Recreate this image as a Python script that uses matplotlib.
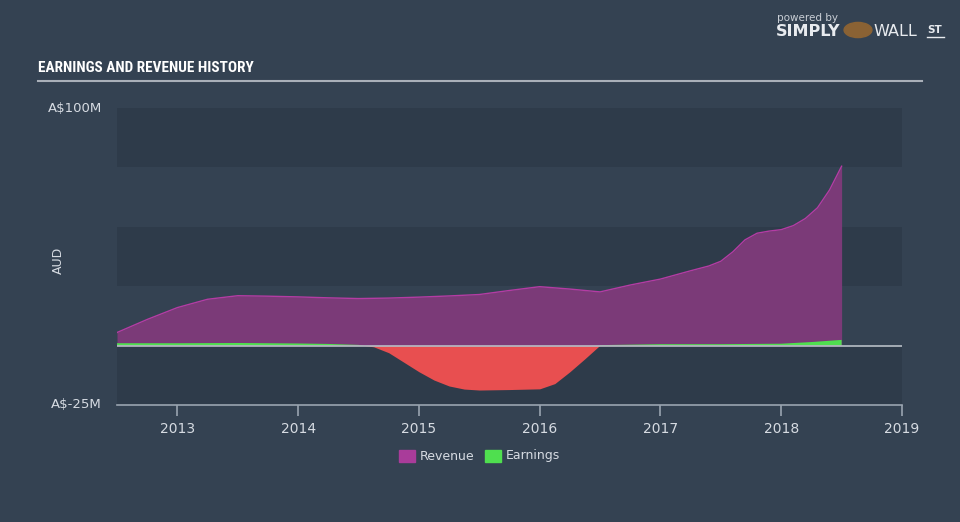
import matplotlib.pyplot as plt
import numpy as np
from matplotlib import font_manager

# revenue and earnings, A$ millions
rev_years = [2012.5, 2012.75, 2013.0, 2013.25, 2013.5, 2013.75, 2014.0, 2014.25, 2014.5, 2014.75,
             2015.0, 2015.25, 2015.5, 2015.75, 2016.0, 2016.25, 2016.5, 2016.75, 2017.0, 2017.25,
             2017.4, 2017.5, 2017.6, 2017.7, 2017.8, 2017.9, 2018.0, 2018.1, 2018.2, 2018.3,
             2018.4, 2018.5]
revenue = [5.5, 11.0, 16.0, 19.5, 21.0, 20.8, 20.5, 20.1, 19.8, 20.0,
           20.4, 20.9, 21.5, 23.2, 24.8, 23.8, 22.6, 25.5, 28.0, 31.5,
           33.5, 35.5, 39.5, 44.5, 47.3, 48.2, 48.8, 50.5, 53.5, 58.0,
           65.5, 75.5]

earn_years = [2012.5, 2013.0, 2013.5, 2014.0, 2014.25, 2014.5, 2014.625, 2014.75, 2014.875, 2015.0,
              2015.125, 2015.25, 2015.375, 2015.5, 2015.75, 2016.0, 2016.125, 2016.25, 2016.375, 2016.5,
              2016.75, 2017.0, 2017.5, 2018.0, 2018.25, 2018.5]
earnings = [1.0, 1.0, 1.1, 0.9, 0.7, 0.3, -0.5, -3.0, -7.0, -11.0,
            -14.5, -17.0, -18.3, -18.7, -18.5, -18.2, -16.0, -11.0, -5.5, 0.2,
            0.4, 0.6, 0.6, 0.8, 1.5, 2.4]

year_ticks = [2013, 2014, 2015, 2016, 2017, 2018, 2019]

bg = '#344252'
band = '#2e3b4a'
txt = '#d6dbe2'
rev_fill = '#7b3a78'
rev_line = '#b43ca4'
green = '#4fdf4f'
red = '#e84f50'

installed = {f.name for f in font_manager.fontManager.ttflist}
title_font = 'DejaVu Sans'
title_size = 10
for name in ['Liberation Sans Narrow', 'DejaVu Sans Condensed', 'Roboto Condensed', 'Open Sans Condensed']:
    if name in installed:
        title_font = name
        title_size = 11
        break

fig = plt.figure(figsize=(9.6, 5.22), dpi=100, facecolor=bg)
ax = fig.add_axes([117 / 960, 1 - 405 / 522, 785 / 960, 297 / 522])
ax.set_facecolor(bg)
ax.set_xlim(2012.5, 2019.0)
ax.set_ylim(-25, 100)

# horizontal bands
for lo in [75, 25, -25]:
    ax.axhspan(lo, lo + 25, color=band, lw=0, zorder=0)

ry = np.array(rev_years)
rv = np.array(revenue)
ax.fill_between(ry, 0, rv, color=rev_fill, lw=0, zorder=2)
ax.plot(ry, rv, color=rev_line, lw=1.0, zorder=3)

ey = np.array(earn_years)
ev = np.array(earnings)
ax.fill_between(ey, 0, ev, where=ev >= 0, interpolate=True, color=green, lw=0, zorder=4)
ax.fill_between(ey, 0, ev, where=ev <= 0, interpolate=True, color=red, lw=0, zorder=4)

ax.axhline(0, color='#b8bec6', lw=1.2, zorder=5)

for s in ['top', 'right', 'left']:
    ax.spines[s].set_visible(False)
ax.spines['bottom'].set_color('#9aa4b0')
ax.spines['bottom'].set_linewidth(1.2)
ax.set_xticks(year_ticks)
ax.set_xticklabels([str(y) for y in year_ticks])
ax.tick_params(axis='x', colors='#9aa4b0', length=8, width=1.2, labelcolor=txt, labelsize=10, pad=4)
ax.set_yticks([])

fig.text(102 / 960, 1 - 108 / 522, 'A$100M', color=txt, fontsize=9.5, ha='right', va='center')
fig.text(102 / 960, 1 - 405 / 522, 'A$-25M', color=txt, fontsize=9.5, ha='right', va='center')
fig.text(58 / 960, 1 - 260 / 522, 'AUD', color=txt, fontsize=9, rotation=90, ha='center', va='center')

# title and rule
fig.text(38 / 960, 1 - 68 / 522, 'EARNINGS AND REVENUE HISTORY', color='white', fontsize=title_size,
         fontweight='bold', family=[title_font, 'DejaVu Sans'], va='center')
fig.add_artist(plt.Line2D([38 / 960, 922 / 960], [1 - 81 / 522, 1 - 81 / 522],
                          color='#a9b0b9', lw=1.5))

# logo
fig.text(777 / 960, 1 - 18 / 522, 'powered by', color='#c9ced5', fontsize=7.5, va='center')
fig.text(776 / 960, 1 - 31 / 522, 'SIMPLY', color='#e8ebef', fontsize=11.5, fontweight='bold', va='center')
fig.text(873 / 960, 1 - 31 / 522, 'WALL', color='#e8ebef', fontsize=11.5, va='center')
fig.text(927 / 960, 1 - 30 / 522, 'ST', color='#e8ebef', fontsize=7.5, fontweight='bold', va='center')
fig.add_artist(plt.Line2D([927 / 960, 944 / 960], [1 - 37 / 522, 1 - 37 / 522],
                          color='#e8ebef', lw=1.0))
fig.add_artist(plt.Circle((858 / 960, 1 - 30 / 522), 0.0145, transform=fig.transFigure,
                          color='#8a6234'))

# legend
fig.add_artist(plt.Rectangle((399 / 960, 1 - 462 / 522), 16 / 960, 12 / 522,
                             transform=fig.transFigure, color='#a93c9a'))
fig.text(420 / 960, 1 - 456 / 522, 'Revenue', color=txt, fontsize=9, va='center')
fig.add_artist(plt.Rectangle((485 / 960, 1 - 462 / 522), 16 / 960, 12 / 522,
                             transform=fig.transFigure, color=green))
fig.text(506 / 960, 1 - 456 / 522, 'Earnings', color=txt, fontsize=9, va='center')

fig.savefig('out.png', dpi=100, facecolor=bg)
